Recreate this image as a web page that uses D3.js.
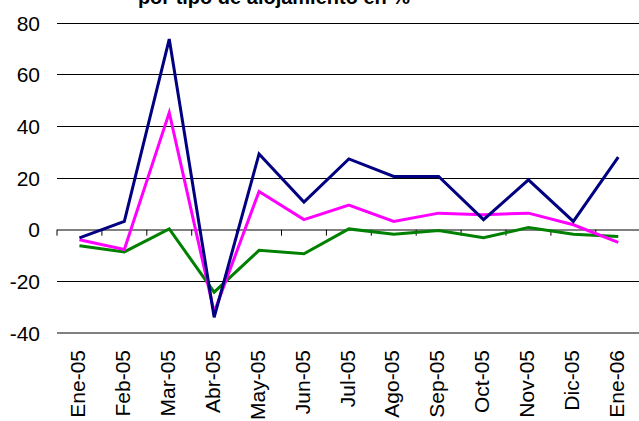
<!DOCTYPE html>
<html>
<head>
<meta charset="utf-8">
<script src="https://cdn.jsdelivr.net/npm/d3@7"></script>
<style>
  body { margin: 0; background: #fff; overflow: hidden; }
  svg { display: block; font-family: "Liberation Sans", Arial, sans-serif; }
</style>
</head>
<body>
<div id="chart"></div>
<script>
var months = ["Ene-05", "Feb-05", "Mar-05", "Abr-05", "May-05", "Jun-05", "Jul-05",
              "Ago-05", "Sep-05", "Oct-05", "Nov-05", "Dic-05", "Ene-06"];
var serieAzul    = [-3.2, 3.2, 73.8, -33.9, 29.3, 10.7, 27.4, 20.6, 20.6, 3.9, 19.3, 3.2, 28.1];
var serieMagenta = [-3.9, -7.7, 45.3, -32.0, 14.8, 3.9, 9.5, 3.2, 6.4, 5.8, 6.4, 1.9, -4.9];
var serieVerde   = [-6.2, -8.6, 0.3, -24.2, -8.0, -9.3, 0.3, -1.8, -0.3, -3.1, 0.8, -1.8, -2.6];
var yTicks = [-40, -20, 0, 20, 40, 60, 80];

function renderChart(el) {
  var width = 639, height = 421;
  var margin = {left: 57, top: 23, bottom: 88};

  var svg = d3.select(el).append("svg")
      .attr("width", width)
      .attr("height", height);

  // x band covers 13 months, runs a bit past the right edge like the original
  var x = d3.scaleBand()
      .domain(months)
      .range([margin.left, margin.left + 13 * 44.9]);
  var y = d3.scaleLinear()
      .domain([-40, 80])
      .range([height - margin.bottom, margin.top]);

  // title (partly cut off at the top)
  svg.append("text")
      .attr("x", 274)
      .attr("y", 4)
      .attr("text-anchor", "middle")
      .style("font-size", "20px")
      .style("font-weight", "bold")
      .text("por tipo de alojamiento en %");

  // gridlines
  svg.selectAll(".grid")
      .data(yTicks)
    .enter().append("line")
      .attr("x1", margin.left)
      .attr("x2", width)
      .attr("y1", function(d) { return y(d); })
      .attr("y2", function(d) { return y(d); })
      .attr("stroke", function(d) { return (d === 0 || d === -40) ? "#808080" : "#000"; })
      .attr("stroke-width", function(d) { return (d === 0 || d === -40) ? 2 : 1; })
      .attr("shape-rendering", "crispEdges");

  // y labels
  svg.selectAll(".ylab")
      .data(yTicks)
    .enter().append("text")
      .attr("x", 40)
      .attr("y", function(d) { return y(d); })
      .attr("dy", "0.36em")
      .attr("text-anchor", "end")
      .style("font-size", "21px")
      .text(function(d) { return d; });

  // category tick marks on the zero line
  var tickPos = months.map(function(m) { return x(m); });
  svg.selectAll(".xtick")
      .data(tickPos)
    .enter().append("line")
      .attr("x1", function(d) { return d; })
      .attr("x2", function(d) { return d; })
      .attr("y1", y(0))
      .attr("y2", y(0) + 6)
      .attr("stroke", "#000")
      .attr("stroke-width", 1);

  // x labels, rotated
  svg.selectAll(".xlab")
      .data(months)
    .enter().append("text")
      .attr("transform", function(d) {
        return "translate(" + (x(d) + x.bandwidth() / 2) + "," + 350 + ") rotate(-90)";
      })
      .attr("dy", "0.27em")
      .attr("text-anchor", "end")
      .style("font-size", "21px")
      .text(function(d) { return d; });

  var line = d3.line()
      .x(function(d, i) { return x(months[i]) + x.bandwidth() / 2; })
      .y(function(d) { return y(d); });

  var series = [
    {values: serieVerde, color: "#008000"},
    {values: serieMagenta, color: "#ff00ff"},
    {values: serieAzul, color: "#000080"}
  ];

  svg.selectAll(".serie")
      .data(series)
    .enter().append("path")
      .attr("d", function(d) { return line(d.values); })
      .attr("fill", "none")
      .attr("stroke", function(d) { return d.color; })
      .attr("stroke-width", 3)
      .attr("stroke-linejoin", "miter");
}

renderChart("#chart");
</script>
</body>
</html>
